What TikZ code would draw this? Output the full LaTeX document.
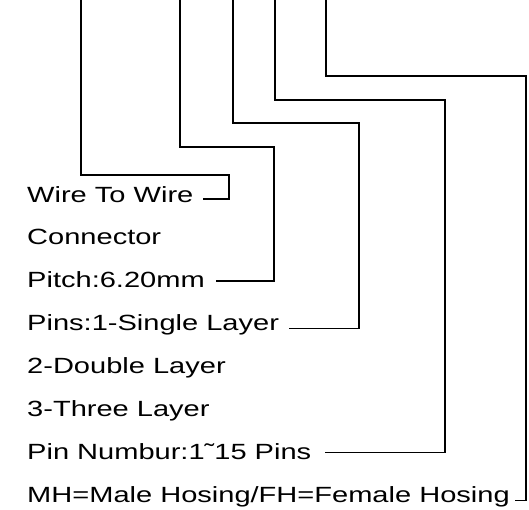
\documentclass[tikz,border=0pt]{standalone}
\usepackage{fontspec}
\setmainfont{Liberation Sans}[FakeStretch=1.32]
\usetikzlibrary{positioning}

\begin{document}
\begin{tikzpicture}[
  x=1pt, y=-1pt,
  txt/.style={inner sep=0pt, text height=16pt, text depth=4.5pt, font=\fontsize{22}{26}\selectfont},
  leader/.style={line width=1.5pt}
]
\useasboundingbox (0,0) rectangle (529,509);
\node[txt, anchor=base west] (wire) at (27,202) {Wire To Wire};
\node[txt, below=22pt of wire.south west, anchor=north west] (conn) {Connector};
\node[txt, below=22pt of conn.south west, anchor=north west] (pitch) {Pitch:6.20mm};
\node[txt, below=22pt of pitch.south west, anchor=north west] (pins) {Pins:1-Single Layer};
\node[txt, below=22pt of pins.south west, anchor=north west] (double) {2-Double Layer};
\node[txt, below=22pt of double.south west, anchor=north west] (three) {3-Three Layer};
\node[txt, below=22pt of three.south west, anchor=north west] (num) {Pin Numbur:1˜15 Pins};
\node[txt, below=22pt of num.south west, anchor=north west] (mh) {MH=Male Hosing/FH=Female Hosing};
\coordinate (t1) at (81,0);
\coordinate (t2) at (180,0);
\coordinate (t3) at (233,0);
\coordinate (t4) at (275,0);
\coordinate (t5) at (326,0);
\coordinate (k1) at (229,175);
\coordinate (k2) at (274,147);
\coordinate (k3) at (359,123);
\coordinate (k4) at (445,100);
\coordinate (k5) at (526,76);
\draw[leader] (t1) |- (k1) |- ([shift={(9pt,3pt)}]wire.base east);
\draw[leader] (t2) |- (k2) |- ([shift={(11pt,7pt)}]pitch.base east);
\draw[leader] (t3) |- (k3) |- ([shift={(10pt,2pt)}]pins.base east);
\draw[leader] (t4) |- (k4) |- ([shift={(14pt,7pt)}]num.base east);
\draw[leader] (t5) |- (k5) |- ([shift={(5pt,2pt)}]mh.base east);
\end{tikzpicture}
\end{document}
